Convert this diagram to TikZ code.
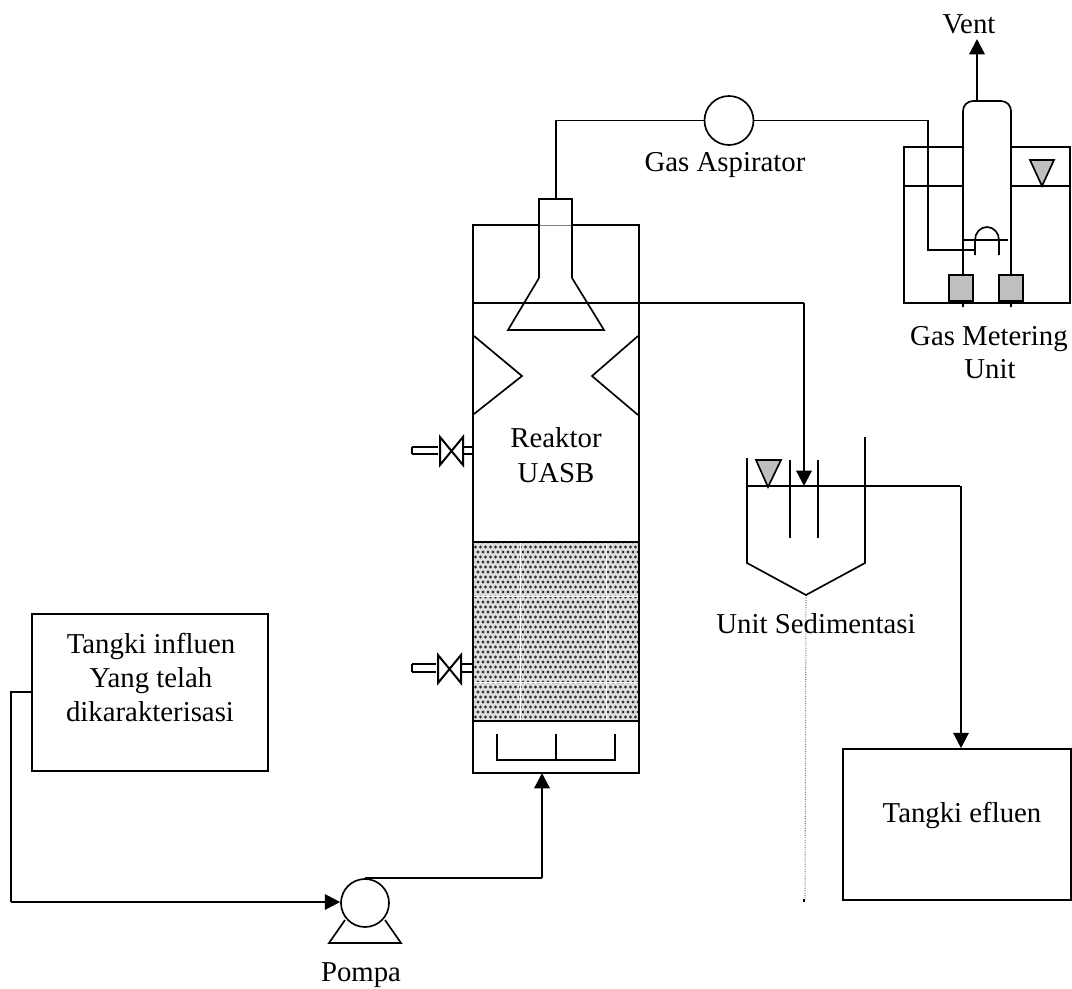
\documentclass[tikz,border=0pt]{standalone}
\usepackage{fontspec}
\setmainfont{Liberation Serif}
\usetikzlibrary{arrows.meta}
\definecolor{fillgray}{gray}{0.75}
\tikzset{
  ln/.style={line width=1.25pt,black},
  thin line/.style={line width=0.8pt,black},
  arr/.style={line width=1.7pt,-{Triangle[length=11.5pt,width=11.5pt]}},
  lbl/.style={font=\fontsize{21.6}{26}\selectfont,inner sep=0pt,anchor=base},
  boxn/.style={ln,draw,rectangle,inner sep=0pt},
  round/.style={ln,draw,circle,fill=white,inner sep=0pt},
  grayfill/.style={ln,fill=fillgray}
}
\begin{document}
\begin{tikzpicture}[x=0.75pt,y=-0.75pt]
\useasboundingbox (0,0) rectangle (1072,989);
% packed bed
\fill[gray!25] (473,542) rectangle (639,721);
\begin{scope}
\clip (473,542) rectangle (639,721);
\fill[black!80]
\foreach \i in {0,...,34}{\foreach \j in {0,...,37}{
  ({473+\i*5+mod(\j,2)*2.5},{542+\j*5}) circle[radius=1.7]
}};
\draw[white,line width=0.75pt] (520,542) -- (520,721) (606,542) -- (606,721) (473,596) -- (639,596) (473,682) -- (639,682);
\end{scope}
% reactor
\node[boxn,minimum width=124.5pt,minimum height=411pt] (reactor) at (556,499) {};
\draw[line width=1.7pt] (473,542) -- (639,542) (473,721) -- (639,721);
\draw[line width=1.7pt] (473,542) -- (473,721) (639,542) -- (639,721);
% neck and hood
\fill[white] (539,199) rectangle (572,278);
\draw[line width=0.5pt,gray] (539,225) -- (572,225);
\draw[ln] (539,278) -- (539,199) -- (572,199) -- (572,278);
\draw[ln] (473,303) -- (639,303);
\draw[ln] (539,278) -- (508,330) -- (604,330) -- (572,278);
% baffles
\draw[ln] (474,336) -- (522,376) -- (474,414);
\draw[ln] (638,336) -- (592,376) -- (638,415);
% distributor
\draw[ln] (497,734) -- (497,760) -- (615,760) -- (615,734) (556,734) -- (556,760);
% valves
\draw[ln] (412,447) -- (438,447) (412,454) -- (438,454) (412,447) -- (412,454) (463,447) -- (473,447) (463,454) -- (473,454);
\draw[line width=1.5pt] (440,437) -- (463,465) -- (463,437) -- (440,465) -- cycle;
\draw[ln] (412,664) -- (436,664) (412,672) -- (436,672) (412,664) -- (412,672) (461,664) -- (472,664) (461,672) -- (472,672);
\draw[line width=1.5pt] (438,655) -- (461,683) -- (461,655) -- (438,683) -- cycle;
% influent tank
\node[boxn,minimum width=177pt,minimum height=117.75pt] (influen) at (150,692.5) {};
\node[lbl] (t1) at (151,653) {Tangki influen};
\node[lbl] (t2) at (151,687) {Yang telah};
\node[lbl] (t3) at (150,721) {dikarakterisasi};
% pump
\node[round,minimum size=36pt] (pump) at (365,903) {};
\draw[ln] (345,920) -- (329,943) -- (401,943) -- (385,920);
\node[lbl] (pompa) at (361,981) {Pompa};
\coordinate (in1) at (11,692);
\coordinate (in2) at (11,902);
\draw[ln] (influen.west |- in1) -- (in1) -- (in2);
\draw[arr] (in2) -- (pump.west |- in2);
\coordinate (rb) at (542,773);
\coordinate (pc) at (pump.north -| rb);
\draw[ln] (pump.north) -- (pc);
\draw[arr] (pc) -- (rb);
% gas line
\node[round,minimum size=36.75pt] (asp) at (729,120.5) {};
\node[lbl] (asplbl) at (725,171) {Gas Aspirator};
\coordinate (neck) at (556,199);
\draw[ln] (neck) -- (556,120.5) -- (asp.west);
\draw[ln] (asp.east) -- (928,120.5) -- (928,250) -- (975,250);
% gas metering
\draw[ln] (904,147) -- (904,303) -- (1070,303) -- (1070,147) -- cycle;
\draw[ln] (904,186) -- (1070,186);
\fill[white] (963,110) rectangle (1011,302);
\draw[ln] (928,147) -- (928,250) -- (963,250);
\draw[ln,rounded corners=7.5pt] (963,307) -- (963,101) -- (1011,101) -- (1011,307);
\draw[ln] (962,240) -- (1008,240);
\draw[ln] (975,255) -- (975,240) arc[start angle=180,end angle=360,x radius=12,y radius=13] -- (999,255);
\draw[ln] (963,250) -- (975,250);
\node[grayfill,draw,rectangle,minimum width=18pt,minimum height=19.5pt,inner sep=0pt] (s1) at (961,288) {};
\node[grayfill,draw,rectangle,minimum width=18pt,minimum height=19.5pt,inner sep=0pt] (s2) at (1011,288) {};
\draw[ln] (940,303) -- (1034,303);
\draw[grayfill] (1030,160) -- (1054,160) -- (1042,186) -- cycle;
\coordinate (ventc) at (977,101);
\coordinate (ventt) at (977,39);
\draw[arr] (ventc) -- (ventt);
\node[lbl] (vent) at (969,33) {Vent};
\node[lbl] (gm1) at (989,345) {Gas Metering};
\node[lbl] (gm2) at (990,378) {Unit};
\node[lbl] (r1) at (556,447) {Reaktor};
\node[lbl] (r2) at (556,482) {UASB};
% sedimentation
\draw[thin line,densely dotted,gray] (806,595) -- (805,900);
\fill (803,899) rectangle (805,902);
\draw[ln] (747,458) -- (747,563) -- (806,595) -- (865,563) -- (865,458);
\draw[line width=0.8pt] (865,458) -- (865,437);
\draw[ln] (747,486) -- (960,486);
\draw[ln] (790,460) -- (790,538) (818,460) -- (818,538);
\draw[grayfill] (756,460) -- (781,460) -- (768,487) -- cycle;
\coordinate (over) at (804,303);
\draw[ln] (639,303) -- (over);
\coordinate (sedin) at (804,486);
\draw[arr] (over) -- (sedin);
\node[lbl] (sedlbl) at (816,633) {Unit Sedimentasi};
% effluent
\node[boxn,minimum width=171pt,minimum height=113.25pt] (efl) at (957,824.5) {};
\node[lbl] (efllbl) at (962,822) {Tangki efluen};
\coordinate (e1) at (961,486);
\draw[arr] (e1) -- (e1 |- efl.north);
\end{tikzpicture}
\end{document}
